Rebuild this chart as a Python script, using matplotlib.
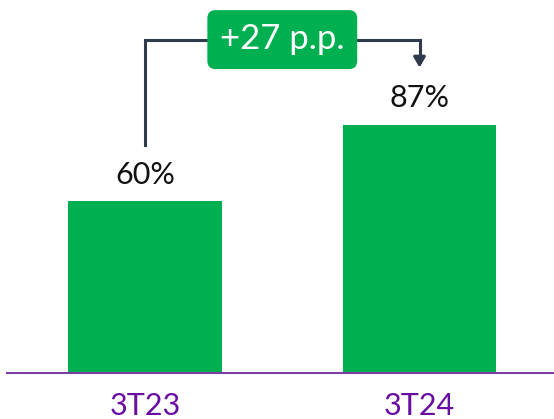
import matplotlib.pyplot as plt
from matplotlib.patches import FancyBboxPatch

categories = ["3T23", "3T24"]
values = [60, 87]
labels = ["60%", "87%"]
delta_label = "+27 p.p."

green = "#00B050"
purple = "#6A0DA3"
dark = "#2F3A4C"

fig = plt.figure(figsize=(5.54, 4.19), dpi=100)
ax = fig.add_axes([7 / 554, 46.5 / 419, 547 / 554, 372.5 / 419])
x = range(len(categories))
ax.bar(x, values, width=0.56, color=green, zorder=2)
ax.set_xlim(-0.503, 1.49)
ax.set_ylim(0, 130.7)

for i, (v, lab) in enumerate(zip(values, labels)):
    ax.text(i, v + 4.5, lab, ha="center", va="bottom", fontsize=22,
            family="Lato", color="#111111")

for s in ["top", "right", "left"]:
    ax.spines[s].set_visible(False)
ax.spines["bottom"].set_color("#7D3FA6")
ax.spines["bottom"].set_linewidth(1.5)
ax.set_yticks([])
ax.set_xticks(list(x))
ax.set_xticklabels(categories, fontsize=22, family="Lato", color=purple)
ax.tick_params(axis="x", length=0, pad=14)

# bracket
top = 116.8
ax.plot([0, 0, 1, 1], [values[0] + 19.8, top, top, 109], color=dark,
        lw=2.2, solid_joinstyle="miter", clip_on=False, zorder=3)
ax.annotate("", xy=(1, 107.0), xytext=(1, 111),
            arrowprops=dict(arrowstyle="-|>,head_width=0.35,head_length=0.6",
                            color=dark, lw=2.2, shrinkA=0, shrinkB=0))
bw, bh = 0.546, 20.7
box = FancyBboxPatch((0.5 - bw / 2, top - bh / 2), bw, bh,
                     boxstyle="round,pad=0,rounding_size=0.03",
                     mutation_aspect=96.3, fc=green, ec="none", zorder=4,
                     clip_on=False)
ax.add_patch(box)
ax.text(0.5, top + 0.3, delta_label, ha="center", va="center", fontsize=25,
        family="Lato", color="white", zorder=5)

fig.savefig("out.png", dpi=100)
